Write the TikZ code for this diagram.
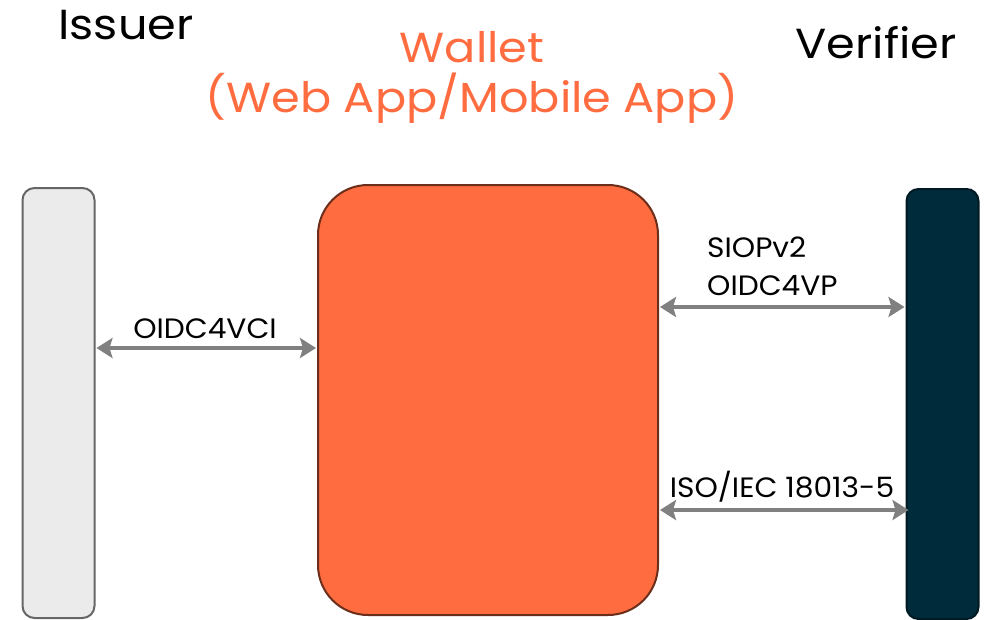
\documentclass[tikz,border=0pt]{standalone}
\usepackage{fontspec}
\setmainfont{Poppins}
\newfontfamily\titlefont{Poppins}[FakeStretch=1.1]
\newfontfamily\labelfont{Poppins}[FakeStretch=1.06]
\usetikzlibrary{arrows.meta,calc}
\definecolor{walletorange}{HTML}{FF6C40}
\definecolor{walletedge}{HTML}{6B2E1A}
\definecolor{issuergray}{HTML}{EBEBEB}
\definecolor{verifierblue}{HTML}{002B3A}
\definecolor{linkgray}{HTML}{808080}

\begin{document}
\begin{tikzpicture}[x=1pt,y=-1pt,
	bar/.style={draw,line width=2pt,rounded corners=12pt,minimum width=72pt,minimum height=430pt,inner sep=0pt},
	link/.style={draw=linkgray,line width=4.5pt,{Stealth[length=16pt,width=20pt,inset=3pt]}-{Stealth[length=16pt,width=20pt,inset=3pt]},shorten <=1pt,shorten >=1pt},
	title/.style={font=\titlefont\fontsize{42}{50}\selectfont,anchor=base,inner sep=0pt},
	lbl/.style={font=\labelfont\fontsize{28}{38}\selectfont,inner sep=0pt}]
\useasboundingbox (0,0) rectangle (987,619);
%parties
\node[bar,draw=black!60,fill=issuergray] (issuer) at (58.5,403) {};
\node[bar,draw=verifierblue!60!black,fill=verifierblue] (verifier) at (942.5,404) {};
\node[draw=walletedge,line width=2pt,fill=walletorange,rounded corners=50pt,minimum width=340pt,minimum height=430pt] (wallet) at (488,400) {};
%titles
\node[title] (issuertitle) at (126,39) {Issuer};
\node[title,text=walletorange,align=center] (wallettitle) at (472,112) {Wallet\\(Web App/Mobile App)};
\node[title] (verifiertitle) at (876,58) {Verifier};
%links
\draw[link] (issuer.east |- 0,348) -- (wallet.west |- 0,348);
\node[lbl,anchor=base] (vci) at (205,338) {OIDC4VCI};
\draw[link] (wallet.east |- 0,307) -- (verifier.west |- 0,307);
\node[lbl,align=left,anchor=base west] (vp) at (707,295) {SIOPv2\\OIDC4VP};
\draw[link] (wallet.east |- 0,510) -- ($(verifier.west |- 0,510)+(4,0)$);
\node[lbl,anchor=base] (iso) at (782,497) {ISO/IEC 18013-5};
\end{tikzpicture}
\end{document}
